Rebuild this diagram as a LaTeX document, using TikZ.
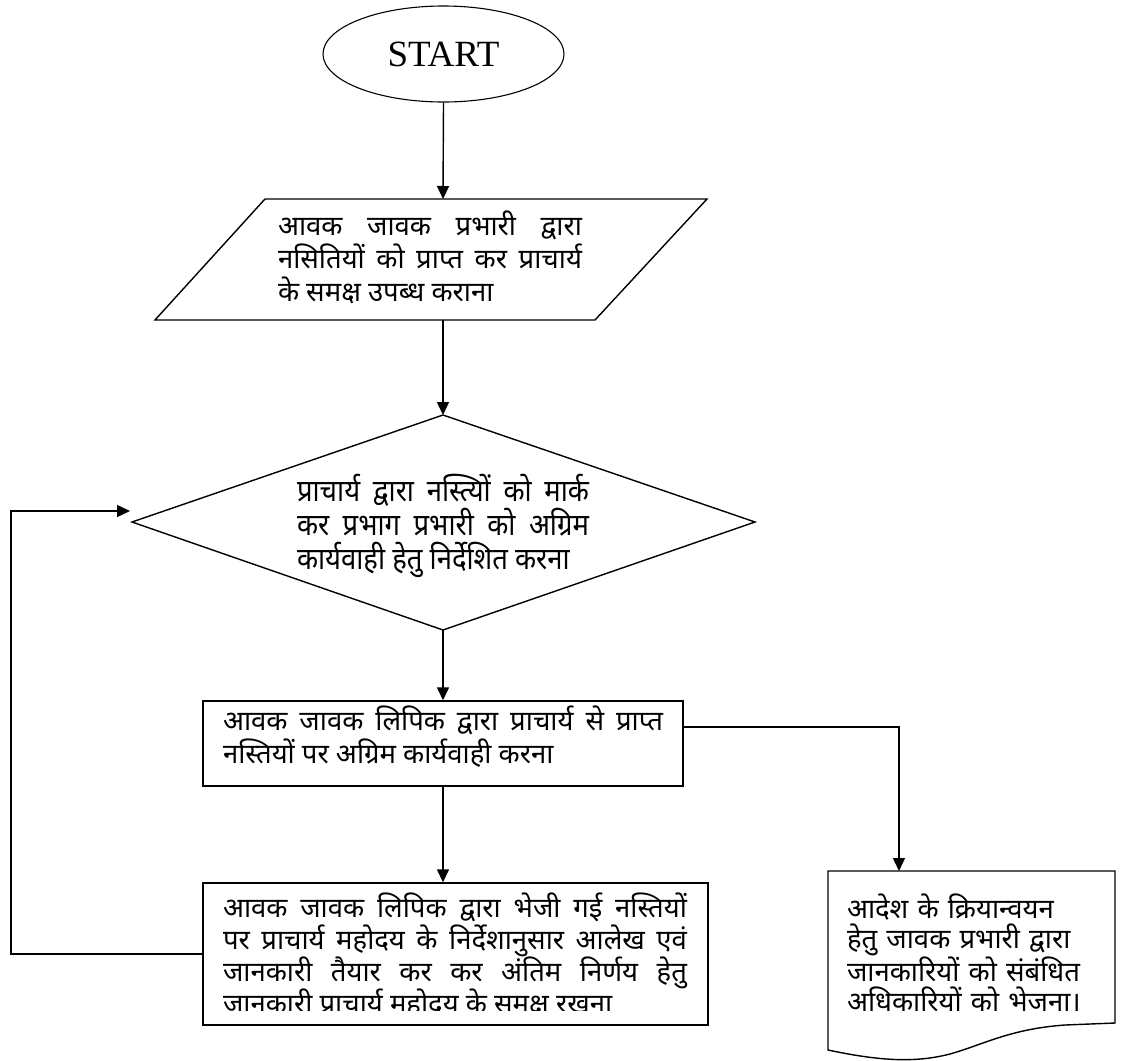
\documentclass[tikz,border=0pt]{standalone}
\usepackage{fontspec}
\setmainfont{Liberation Serif}
\newfontfamily\dev[Script=Devanagari]{Noto Sans}
\newfontfamily\devc[Script=Devanagari,FakeStretch=0.9]{Noto Sans}
\usetikzlibrary{arrows.meta,shapes.geometric}
\begin{document}
\begin{tikzpicture}[x=1pt,y=-1pt,line width=1.4pt,
  conn/.style={-{Triangle[length=13pt,width=12pt]}},
  box/.style={draw,rectangle,inner sep=0pt},
  txt/.style={inner sep=0pt,anchor=base,align=justify,font=\dev\fontsize{27.5}{33}\selectfont},
  ctxt/.style={inner sep=0pt,anchor=base,align=justify,font=\devc\fontsize{30.5}{34}\selectfont}]
\useasboundingbox (0,0) rectangle (1128,1061);

% START
\node[draw,ellipse,line width=1.1pt,minimum width=241pt,minimum height=96pt,inner sep=0pt,
  font=\fontsize{37}{40}\selectfont] (start) at (443.5,54) {START};

% parallelogram
\coordinate (p1) at (265,199);
\coordinate (p2) at (707,199);
\coordinate (p3) at (595,320);
\coordinate (p4) at (155,320);
\coordinate (ptop) at (443,199);
\coordinate (pbot) at (443,320);
\draw (p1) -- (p2) -- (p3) -- (p4) -- cycle;
\node[txt,text width=304pt] (ptext) at (430,235)
 {आवक जावक प्रभारी द्वारा\linebreak नसितियों को प्राप्त कर प्राचार्य\linebreak के समक्ष उपब्ध कराना};

% diamond
\coordinate (dt) at (443,415);
\coordinate (dr) at (755,522);
\coordinate (db) at (443,630);
\coordinate (dl) at (132,522);
\draw (dt) -- (dr) -- (db) -- (dl) -- cycle;
\node[ctxt,text width=292pt] (dtext) at (443,501)
 {प्राचार्य द्वारा नस्त्यिों को मार्क\linebreak कर प्रभाग प्रभारी को अग्रिम\linebreak कार्यवाही हेतु निर्देशित करना};

% rect 1
\node[box,minimum width=480pt,minimum height=85pt] (r1) at (443,743.5) {};
\node[txt,text width=440pt] (r1text) at (443,730)
 {आवक जावक लिपिक द्वारा प्राचार्य से प्राप्त\linebreak नस्तियों पर अग्रिम कार्यवाही करना};

% rect 2
\node[box,minimum width=505pt,minimum height=142pt] (r2) at (455.5,954) {};
\begin{scope}
\clip (203,883) rectangle (708,1010);
\node[txt,text width=464pt,font=\dev\fontsize{27.5}{32.3}\selectfont] (r2text) at (455,917)
 {आवक जावक लिपिक द्वारा भेजी गई नस्तियों\linebreak पर प्राचार्य महोदय के निर्देशानुसार आलेख एवं\linebreak जानकारी तैयार कर कर अंतिम निर्णय हेतु\linebreak जानकारी प्राचार्य महोदय के समक्ष रखना};
\end{scope}

% document
\coordinate (dc1) at (828,871);
\coordinate (dc2) at (1115,871);
\coordinate (dc3) at (1115,1023);
\coordinate (dc4) at (828,1050);
\coordinate (docin) at (899,871);
\draw (dc1) -- (dc2) -- (dc3) -- (1065,1025)
  .. controls (1010,1029) and (985,1044) .. (950,1054)
  .. controls (915,1063) and (880,1061) .. (dc4) -- cycle;
\node[txt,align=left,text width=260pt,font=\dev\fontsize{27.5}{30}\selectfont] (doctext) at (977,918)
 {आदेश के क्रियान्वयन\\ हेतु जावक प्रभारी द्वारा\\ जानकारियों को संबंधित\\ अधिकारियों को भेजना।};

% connectors
\coordinate (r1out) at (683,727);
\coordinate (loopc) at (11,511);
\coordinate (looptip) at (130,511);
\draw[conn] (start.south) -- (ptop);
\draw[conn] (pbot) -- (dt);
\draw[conn] (db) -- (r1.north);
\draw[conn] (r1.south) -- (r1.south |- r2.north);
\draw[conn] (r2.west) -| (loopc) -- (looptip);
\draw[conn] (r1out) -| (docin);
\end{tikzpicture}
\end{document}
